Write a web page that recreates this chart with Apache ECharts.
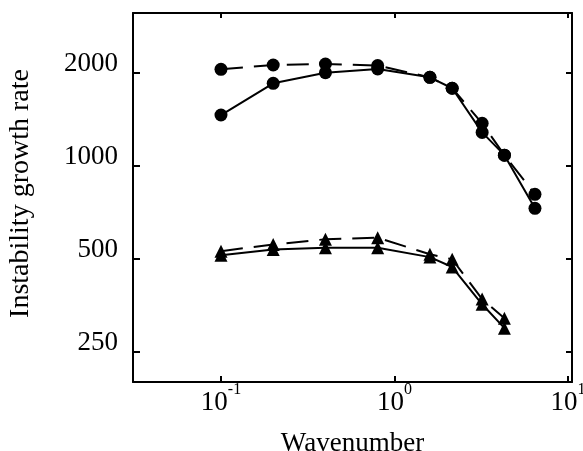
<!DOCTYPE html>
<html><head><meta charset="utf-8">
<script src="https://cdn.jsdelivr.net/npm/echarts@6/dist/echarts.min.js"></script>
<style>html,body{margin:0;padding:0;background:#fff}#c{width:583px;height:451px}</style>
</head><body><div id="c"></div>
<script>
const wavenumbers = [0.1, 0.2, 0.4, 0.8, 1.6, 2.15, 3.2, 4.3, 6.45];
const circleSolid = [1459, 1848, 2000, 2056, 1932, 1781, 1282, 1082, 728];
const circleDashed = [2051, 2118, 2134, 2110, 1932, 1781, 1372, 1082, 808];
const triWavenumbers = [0.1, 0.2, 0.4, 0.8, 1.6, 2.15, 3.2, 4.3];
const triSolid = [513, 536, 543, 543, 506, 470, 356, 298];
const triDashed = [529, 556, 578, 585, 517, 498, 370, 321];
const xTicks = [0.1, 1, 10];
const yTicks = [250, 500, 1000, 2000];

const FONT = 'Liberation Serif';
const xMin = Math.pow(10, -1.507), xMax = Math.pow(10, 1.023);
const yMin = 199.5, yMax = 3121;

function pairs(xs, ys) { return ys.map((y, i) => [xs[i], y]); }

const axisLine = { show: true, onZero: false, lineStyle: { color: '#000', width: 2 } };
function tickStyle(vals, len) {
  return { show: true, inside: true, length: len, customValues: vals, lineStyle: { color: '#000', width: 2 } };
}

function lineSeries(xs, ys, symbol, size, dashed) {
  return {
    type: 'line', data: pairs(xs, ys), symbol: symbol, symbolSize: size,
    showSymbol: true, silent: true,
    lineStyle: { color: '#000', width: 2, type: dashed ? [22, 11] : 'solid' },
    itemStyle: { color: '#000', borderWidth: 0 },
    z: 3
  };
}

const chart = echarts.init(document.getElementById('c'), null, { renderer: 'canvas' });
chart.setOption({
  animation: false,
  backgroundColor: '#fff',
  grid: { left: 133, right: 11, top: 13, bottom: 69, containLabel: false, outerBoundsMode: 'none' },
  xAxis: [
    {
      type: 'log', min: xMin, max: xMax, position: 'bottom',
      axisLine: axisLine, axisTick: tickStyle(xTicks, 6), splitLine: { show: false }, minorTick: { show: false },
      axisLabel: {
        customValues: xTicks, margin: 0,
        formatter: v => '{b|10}{s|' + Math.round(Math.log10(v)) + '}',
        rich: {
          b: { fontFamily: FONT, fontSize: 27, color: '#000', lineHeight: 42 },
          s: { fontFamily: FONT, fontSize: 16, color: '#000', verticalAlign: 'top', lineHeight: 16 }
        }
      },
      name: 'Wavenumber', nameLocation: 'middle', nameGap: 48,
      nameTextStyle: { fontFamily: FONT, fontSize: 27, color: '#000' }
    },
    {
      type: 'log', min: xMin, max: xMax, position: 'top',
      axisLine: axisLine, axisTick: tickStyle(xTicks, 5), splitLine: { show: false },
      axisLabel: { show: false }
    }
  ],
  yAxis: [
    {
      type: 'log', logBase: 2, min: yMin, max: yMax, position: 'left',
      axisLine: axisLine, axisTick: tickStyle(yTicks, 7), splitLine: { show: false }, minorTick: { show: false },
      axisLabel: {
        customValues: yTicks, margin: 15, fontFamily: FONT, fontSize: 27, color: '#000',
        verticalAlign: 'bottom', lineHeight: 18,
        formatter: v => String(Math.round(v))
      },
      name: 'Instability growth rate', nameLocation: 'middle', nameGap: 98,
      nameTextStyle: { fontFamily: FONT, fontSize: 28, color: '#000', padding: [0, 0, 0, 8] }
    },
    {
      type: 'log', logBase: 2, min: yMin, max: yMax, position: 'right',
      axisLine: axisLine, axisTick: tickStyle(yTicks, 6), splitLine: { show: false },
      axisLabel: { show: false }
    }
  ],
  series: [
    lineSeries(wavenumbers, circleSolid, 'circle', 13, false),
    lineSeries(wavenumbers, circleDashed, 'circle', 13, true),
    lineSeries(triWavenumbers, triSolid, 'triangle', 13, false),
    lineSeries(triWavenumbers, triDashed, 'triangle', 13, true)
  ]
});
</script></body></html>
